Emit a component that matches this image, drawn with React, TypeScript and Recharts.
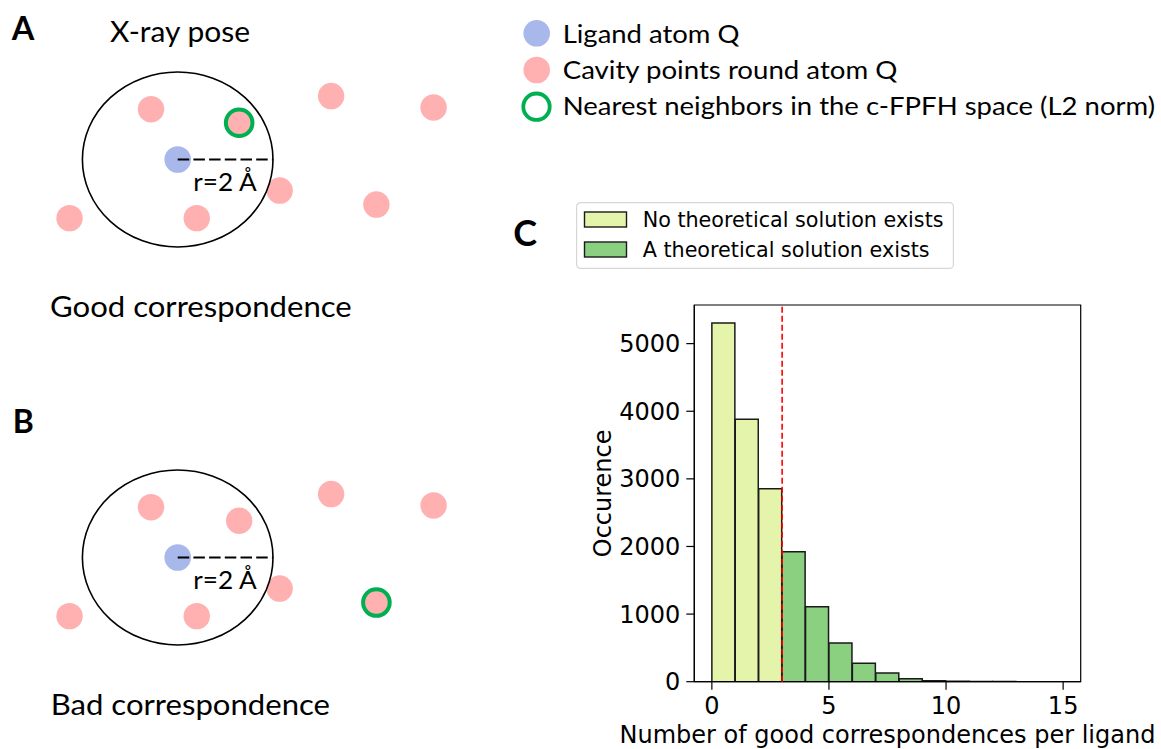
import React from "react";
import {
  BarChart,
  Bar,
  ScatterChart,
  Scatter,
  XAxis,
  YAxis,
  ReferenceLine,
  ReferenceArea,
  Legend,
  Label,
} from "recharts";

// ---- panel C: histogram of good correspondences per ligand ----
const binStarts = [0, 1, 2, 3, 4, 5, 6, 7, 8, 9, 10, 11, 12, 13, 14];
const binCounts = [5306, 3882, 2855, 1923, 1109, 572, 272, 129, 44, 15, 5, 3, 2, 1, 1];
const solutionThreshold = 3;
const xTicks = [0, 5, 10, 15];
const yTicks = [0, 1000, 2000, 3000, 4000, 5000];
const seriesNames = ["No theoretical solution exists", "A theoretical solution exists"];

// ---- panels A/B: cavity points around ligand atom Q (Å, Q at origin) ----
const ligandAtom = [{ x: 0, y: 0 }];
const cavityX = [-0.56, 1.29, 3.22, 5.37, 2.14, 4.17, -2.27, 0.4];
const cavityY = [1.15, 0.84, 1.45, 1.19, -0.71, -1.03, -1.34, -1.34];
const cutoffRadius = 2;
const goodNeighbor = 1;
const badNeighbor = 5;
const keyNames = [
  "Ligand atom Q",
  "Cavity points round atom Q",
  "Nearest neighbors in the c-FPFH space (L2 norm)",
];

const BLUE = "#a9b8eb";
const PINK = "#ffb1b1";
const RING = "#00b050";
const LIGHT = "#e4f4aa";
const GREEN = "#8bcf80";
const FONT_CAL = "Lato, 'Open Sans', sans-serif";
const FONT_MPL = "'DejaVu Sans', sans-serif";

// schematic scale
const PX_X = 47.65;
const PX_Y = 43.75;
const CX = 177.7;
const CY = 159.5;

const histRows = binStarts.map((s, i) => ({
  mid: s + 0.5,
  none: s < solutionThreshold ? binCounts[i] : 0,
  exists: s >= solutionThreshold ? binCounts[i] : 0,
}));
const yTop = Math.max(...binCounts) * 1.05;

function KeyLegend() {
  const ox = 500;
  const centers = [33.3, 70, 106.7];
  const baselines = [42.7, 78.5, 115];
  const lens = [176.7, 334.6, 592.3];
  return (
    <svg width={661} height={130} style={{ display: "block", overflow: "visible" }}>
      {keyNames.map((name, i) => (
        <g key={name}>
          {i === 2 ? (
            <circle cx={536.5 - ox} cy={centers[i]} r={13.2} fill="none" stroke={RING} strokeWidth={3.8} />
          ) : (
            <circle cx={536.7 - ox} cy={centers[i]} r={13.3} fill={i === 0 ? BLUE : PINK} />
          )}
          <text
            x={562.7 - ox}
            y={baselines[i]}
            fontFamily={FONT_CAL}
            fontSize={25}
            fill="#000"
            textLength={lens[i]}
            lengthAdjust="spacingAndGlyphs"
          >
            {name}
          </text>
        </g>
      ))}
    </svg>
  );
}

function radiusLabel(props: any) {
  const vb = props.viewBox || {};
  const x = (vb.x ?? CX) + 15.6;
  const y = (vb.y ?? CY) + 31.6;
  return (
    <text x={x} y={y} fontFamily={FONT_CAL} fontSize={25} fill="#000" textLength={63.4} lengthAdjust="spacingAndGlyphs">
      r=2 Å
    </text>
  );
}

function Schematic({
  top,
  width,
  height,
  neighbor,
  withKey,
}: {
  top: number;
  width: number;
  height: number;
  neighbor: number;
  withKey: boolean;
}) {
  const cavity = cavityX.map((x, i) => ({ x, y: cavityY[i] }));
  const xDomain = [-CX / PX_X, (width - CX) / PX_X];
  const yDomain = [-(height - CY) / PX_Y, CY / PX_Y];
  return (
    <div style={{ position: "absolute", left: 0, top, width, height }}>
      <ScatterChart width={width} height={height} margin={{ top: 0, right: 0, bottom: 0, left: 0 }}>
        <XAxis type="number" dataKey="x" domain={xDomain} hide allowDataOverflow />
        <YAxis type="number" dataKey="y" domain={yDomain} hide allowDataOverflow />
        <Scatter
          name={keyNames[1]}
          data={cavity}
          isAnimationActive={false}
          zIndex={600}
          shape={(p: any) => <circle cx={p.cx} cy={p.cy} r={13.2} fill={PINK} />}
        />
        <Scatter
          name={keyNames[0]}
          data={ligandAtom}
          isAnimationActive={false}
          zIndex={610}
          shape={(p: any) => <circle cx={p.cx} cy={p.cy} r={13.3} fill={BLUE} />}
        />
        <ReferenceArea
          x1={-cutoffRadius}
          x2={cutoffRadius}
          y1={-cutoffRadius}
          y2={cutoffRadius}
          ifOverflow="visible"
          zIndex={650}
          shape={(p: any) => (
            <ellipse
              cx={p.x + p.width / 2}
              cy={p.y + p.height / 2}
              rx={Math.abs(p.width) / 2}
              ry={Math.abs(p.height) / 2}
              fill="none"
              stroke="#000"
              strokeWidth={1.6}
            />
          )}
        />
        <Scatter
          name={keyNames[2]}
          data={[cavity[neighbor]]}
          isAnimationActive={false}
          zIndex={700}
          shape={(p: any) => (
            <circle cx={p.cx} cy={p.cy} r={13.3} fill="none" stroke={RING} strokeWidth={4} />
          )}
        />
        <ReferenceLine
          segment={[
            { x: 0, y: 0 },
            { x: cutoffRadius, y: 0 },
          ]}
          stroke="#000"
          strokeWidth={1.8}
          strokeDasharray="11.5 4.2"
          ifOverflow="visible"
          zIndex={720}
        >
          <Label content={radiusLabel} />
        </ReferenceLine>
        {withKey && (
          <Legend
            layout="vertical"
            align="center"
            verticalAlign="middle"
            wrapperStyle={{ position: "absolute", left: 500, top: 0, width: 661, height: 130 }}
            content={() => <KeyLegend />}
          />
        )}
      </ScatterChart>
    </div>
  );
}

function HistLegend() {
  const colors = [LIGHT, GREEN];
  return (
    <svg width={378} height={67} style={{ display: "block" }}>
      <rect x={0.6} y={0.6} width={376.8} height={65.8} rx={4} fill="#fff" stroke="#d6d6d6" strokeWidth={1.2} />
      {seriesNames.map((name, i) => (
        <g key={name}>
          <rect x={8.5} y={10 + i * 30} width={42} height={15} fill={colors[i]} stroke="#1a1a1a" strokeWidth={1.4} />
          <text x={66.7} y={25.4 + i * 30} fontFamily={FONT_MPL} fontSize={20.7} fill="#000">
            {name}
          </text>
        </g>
      ))}
    </svg>
  );
}

function xLabel(props: any) {
  const vb = props.viewBox || { x: 134.3, y: 491.7, width: 386.4 };
  return (
    <text x={vb.x + vb.width / 2} y={vb.y + 61.6} textAnchor="middle" fontFamily={FONT_MPL} fontSize={24} fill="#000">
      Number of good correspondences per ligand
    </text>
  );
}

function yLabel(props: any) {
  const vb = props.viewBox || { x: 34.3, y: 115, width: 100, height: 376.7 };
  const x = vb.x + 17.2;
  const y = vb.y + vb.height / 2;
  return (
    <text
      x={x}
      y={y}
      transform={`rotate(-90 ${x} ${y})`}
      textAnchor="middle"
      fontFamily={FONT_MPL}
      fontSize={24}
      fill="#000"
    >
      Occurence
    </text>
  );
}

function Histogram() {
  const tickStyle = { fontSize: 24, fill: "#000", fontFamily: FONT_MPL };
  return (
    <div style={{ position: "absolute", left: 560, top: 190, width: 601, height: 559 }}>
      <BarChart
        width={601}
        height={559}
        data={histRows}
        margin={{ top: 115, right: 80.3, bottom: 0, left: 34.3 }}
        barCategoryGap={0}
        barGap={0}
      >
        <XAxis
          type="number"
          dataKey="mid"
          domain={[-0.75, 15.75]}
          ticks={xTicks}
          interval={0}
          allowDataOverflow
          height={67.3}
          tickSize={8}
          tickMargin={7}
          tick={tickStyle}
          axisLine={{ stroke: "#000", strokeWidth: 1.2 }}
          tickLine={{ stroke: "#000", strokeWidth: 1.2 }}
        >
          <Label content={xLabel} />
        </XAxis>
        <YAxis
          type="number"
          domain={[0, yTop]}
          ticks={yTicks}
          interval={0}
          allowDataOverflow
          width={100}
          tickSize={8}
          tickMargin={6}
          tick={tickStyle}
          axisLine={{ stroke: "#000", strokeWidth: 1.2 }}
          tickLine={{ stroke: "#000", strokeWidth: 1.2 }}
        >
          <Label content={yLabel} />
        </YAxis>
        <Bar
          dataKey="none"
          name={seriesNames[0]}
          stackId="h"
          fill={LIGHT}
          stroke="#1a1a1a"
          strokeWidth={1.5}
          isAnimationActive={false}
        />
        <Bar
          dataKey="exists"
          name={seriesNames[1]}
          stackId="h"
          fill={GREEN}
          stroke="#1a1a1a"
          strokeWidth={1.5}
          isAnimationActive={false}
        />
        <ReferenceArea
          x1={-0.75}
          x2={15.75}
          y1={0}
          y2={yTop}
          fill="none"
          fillOpacity={0}
          stroke="#000"
          strokeWidth={1.2}
          ifOverflow="visible"
        />
        <ReferenceLine x={solutionThreshold} stroke="#ff0000" strokeWidth={1.6} strokeDasharray="6 3" zIndex={800} />
        <Legend
          layout="vertical"
          align="center"
          verticalAlign="middle"
          wrapperStyle={{ position: "absolute", left: 16, top: 12.3, width: 378, height: 67 }}
          content={() => <HistLegend />}
        />
      </BarChart>
    </div>
  );
}

function Annotations() {
  const t = { fontFamily: FONT_CAL, fill: "#000" };
  return (
    <svg width={1161} height={749} style={{ position: "absolute", left: 0, top: 0, pointerEvents: "none" }}>
      <text x={11.7} y={40} fontSize={32.5} fontWeight={700} {...t}>A</text>
      <text x={12.7} y={432.7} fontSize={32} fontWeight={700} {...t}>B</text>
      <text x={513.3} y={245.7} fontSize={36} fontWeight={700} {...t}>C</text>
      <text x={110} y={41.7} fontSize={28} textLength={140} lengthAdjust="spacingAndGlyphs" {...t}>
        X-ray pose
      </text>
      <text x={50} y={316.5} fontSize={28} textLength={301.7} lengthAdjust="spacingAndGlyphs" {...t}>
        Good correspondence
      </text>
      <text x={50.7} y={715} fontSize={28} textLength={279.3} lengthAdjust="spacingAndGlyphs" {...t}>
        Bad correspondence
      </text>
    </svg>
  );
}

export default function App() {
  return (
    <div
      style={{
        position: "absolute",
        left: 0,
        top: 0,
        width: 1161,
        height: 749,
        background: "#fff",
        overflow: "hidden",
      }}
    >
      <Schematic top={0} width={1161} height={330} neighbor={goodNeighbor} withKey={true} />
      <Schematic top={398} width={480} height={330} neighbor={badNeighbor} withKey={false} />
      <Histogram />
      <Annotations />
    </div>
  );
}
